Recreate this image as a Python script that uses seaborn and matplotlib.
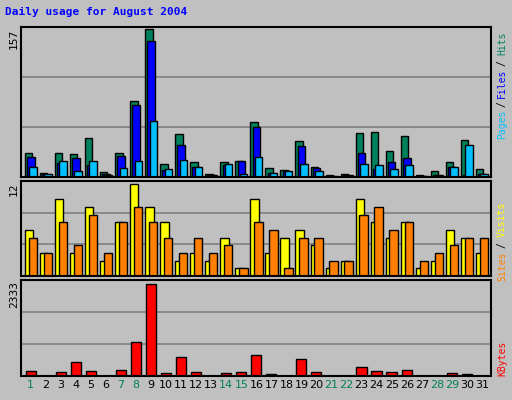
import matplotlib
matplotlib.use("Agg")
import matplotlib.pyplot as plt
import numpy as np
import seaborn as sns

sns.set_theme(style="white")
plt.rcParams['font.family'] = ['DejaVu Sans Mono']

days = list(range(1, 32))
weekend = [1, 7, 8, 14, 15, 21, 22, 28, 29]
hits = [25, 4.6, 25, 24, 42, 5, 26, 81, 157, 14, 46, 16, 3.5, 16, 17, 58, 10, 7, 38, 11, 2.5, 3.5, 47, 48, 28, 44, 2.5, 6, 16, 39, 8]
files = [21, 3.5, 15, 20, 13, 3, 22, 77, 145, 7, 34, 11, 2.5, 13, 17, 53, 4.6, 6, 33, 10, 1.4, 2.5, 26, 8, 16, 20, 1.4, 2.5, 11, 2.5, 3.5]
pages = [11, 3.5, 17, 6, 17, 2.5, 10, 17, 60, 9, 18, 11, 2.5, 14, 3.5, 21, 4.6, 6, 14, 6, 1.4, 2.5, 14, 13, 8, 13, 1.4, 2.5, 11, 34, 3.5]
visits = [6, 3, 10, 3, 9, 2, 7, 12, 9, 7, 2, 3, 2, 5, 1, 10, 3, 5, 6, 4, 1, 2, 10, 7, 5, 7, 1, 2, 6, 5, 3]
sites = [5, 3, 7, 4, 8, 3, 7, 9, 7, 5, 3, 5, 3, 4, 1, 7, 6, 1, 5, 5, 2, 2, 8, 9, 6, 7, 2, 3, 4, 5, 5]
kbytes = [128, 12, 103, 359, 128, 12, 154, 872, 2333, 77, 487, 103, 12, 77, 103, 538, 51, 12, 436, 103, 12, 12, 231, 128, 103, 154, 12, 12, 77, 51, 12]

BG = "#C0C0C0"
fig = plt.figure(figsize=(5.12, 4.0), dpi=100, facecolor=BG)
x = np.arange(31)

def mkax(top, bot, ymax):
    ax = fig.add_axes([21/512, 1-bot/400, 470/512, (bot-top)/400])
    ax.set_facecolor(BG)
    ax.set_xlim(-0.25, 31.0)
    ax.set_ylim(0, ymax)
    for f in (1/3, 2/3):
        ax.axhline(ymax*f, color="#808080", lw=1.2, zorder=0)
    ax.set_xticks([]); ax.set_yticks([])
    for s in ax.spines.values():
        s.set_color("black"); s.set_linewidth(1.5)
    return ax

ek = dict(edgecolor="black", linewidth=1, align="edge")
ax1 = mkax(27, 177, 159.5)
ax1.bar(x, hits, width=0.5, color="#00805C", **ek)
ax1.bar(x+0.15, files, width=0.5, color="#0000FF", **ek)
ax1.bar(x+0.3, pages, width=0.5, color="#00C0FF", **ek)

ax2 = mkax(181, 276, 12.4)
ax2.bar(x, visits, width=0.56, color="#FFFF00", **ek)
ax2.bar(x+0.25, sites, width=0.56, color="#FF8000", **ek)

ax3 = mkax(280, 376, 2434)
ax3.bar(x+0.05, kbytes, width=0.68, color="#FF0000", **ek)

for i, d in enumerate(days):
    ax3.text(i+0.4, -0.04, str(d), transform=ax3.get_xaxis_transform(), ha="center", va="top",
             fontsize=8, color="#00805C" if d in weekend else "black", family="DejaVu Sans")

def ft(xp, yp, s, **kw):
    fig.text(xp/512, 1-yp/400, s, **kw)

ft(5, 12, "Daily usage for August 2004", color="#0000FF", fontsize=8, weight="bold", va="center")
lk = dict(rotation=90, fontsize=8, ha="center", va="top", color="black")
ft(14, 29, "157", **lk)
ft(14, 182, "12", **lk)
ft(14, 281, "2333", **lk)
rk = dict(rotation=90, fontsize=7, ha="center", va="center")
ft(502, 124, "Pages", color="#00C0FF", **rk)
ft(502, 104, "/", color="black", **rk)
ft(502, 83, "Files", color="#0000FF", **rk)
ft(502, 63, "/", color="black", **rk)
ft(502, 43, "Hits", color="#00805C", **rk)
ft(502, 266, "Sites", color="#FF8000", **rk)
ft(502, 245, "/", color="black", **rk)
ft(502, 219, "Visits", color="#FFFF00", **rk)
ft(502, 358, "KBytes", color="#FF0000", **rk)

fig.savefig("out.png", dpi=100, facecolor=BG)
